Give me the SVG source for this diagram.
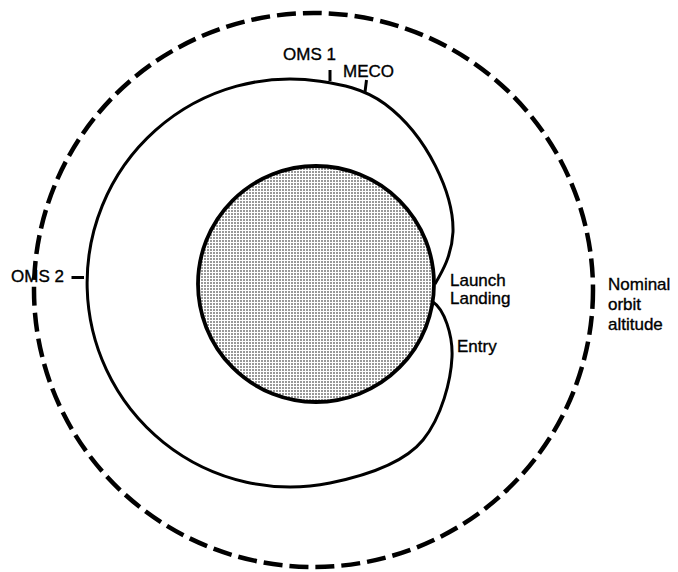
<svg xmlns="http://www.w3.org/2000/svg" width="678" height="572" viewBox="0 0 678 572">
  <style>
    .lbl { font-family: "Liberation Sans", Arial, sans-serif; font-size: 17px; fill: #000; stroke: #000; stroke-width: 0.35px; }
    .line { fill: none; stroke: #000; stroke-linecap: butt; }
  </style>
  <defs>
    <pattern id="dots" width="3" height="3" patternUnits="userSpaceOnUse">
      <rect width="3" height="3" fill="#fff"/>
      <rect width="2" height="2" fill="#999"/>
    </pattern>
  </defs>
  <rect width="678" height="572" fill="#fff"/>

  <g id="nominal-orbit">
    <ellipse cx="313.5" cy="290" rx="279.5" ry="277" class="line" stroke-width="4.5" stroke-dasharray="19 7"/>
  </g>

  <g id="earth">
    <circle cx="316" cy="284" r="118" fill="url(#dots)" stroke="#000" stroke-width="3.8"/>
  </g>

  <g id="connectors">
    <path id="trajectory" class="line" stroke-width="3"
      d="M 435 284 C 442 272, 452 255, 453 232 C 454 195, 428 136, 385 104 C 363.5 88, 339.8 84.2, 320 81.2 A 203 204 0 1 0 330 483 C 364.3 476, 404 463.3, 423 440 C 441.9 416.7, 451 380, 452 357 C 453 335, 444 309, 433 302"/>
    <line id="tick-oms1" class="line" stroke-width="3" x1="330" y1="70" x2="330" y2="81"/>
    <line id="tick-meco" class="line" stroke-width="3" x1="366.5" y1="80" x2="365" y2="92"/>
    <line id="tick-oms2" class="line" stroke-width="3" x1="71.5" y1="277.5" x2="84" y2="277.5"/>
  </g>

  <g id="labels">
    <text class="lbl" x="283" y="59.5">OMS 1</text>
    <text class="lbl" x="343" y="76.5">MECO</text>
    <text class="lbl" x="11" y="282">OMS 2</text>
    <text class="lbl" x="450" y="286">Launch</text>
    <text class="lbl" x="450" y="304">Landing</text>
    <text class="lbl" x="457" y="352">Entry</text>
    <text class="lbl" x="608" y="290">Nominal</text>
    <text class="lbl" x="608" y="310">orbit</text>
    <text class="lbl" x="608" y="330">altitude</text>
  </g>
</svg>
